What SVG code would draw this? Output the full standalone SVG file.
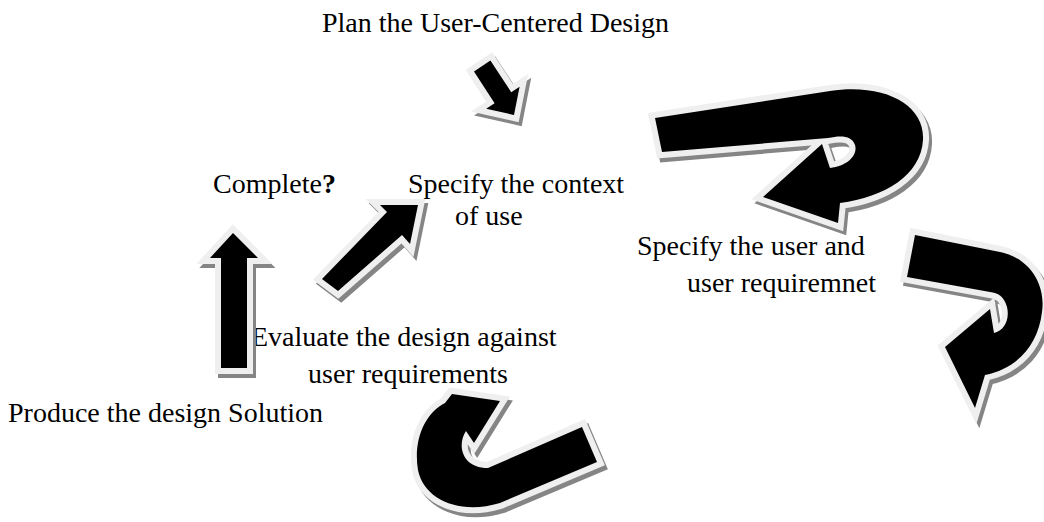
<svg xmlns="http://www.w3.org/2000/svg" xmlns:xlink="http://www.w3.org/1999/xlink" width="1044" height="522" viewBox="0 0 1044 522">
  <style>
    .lbl { font-family: "Liberation Serif", "Times New Roman", serif; font-size: 28px; fill: #000; }
    .shadow { fill: #858585; stroke: #858585; stroke-width: 12; stroke-linejoin: miter; }
    .halo { fill: #efefef; stroke: #efefef; stroke-width: 12; stroke-linejoin: miter; }
    .body { fill: #000; }
  </style>
  <defs>
    <!-- block arrow outlines -->
    <path id="arrPlan" d="M474,71.5 L490.4,60.5 L511.2,92.2 L519.6,86.7 L514,115 L486.2,108.7 L494.6,103.2 Z"/>
    <path id="arrUser" d="M655,118 L830,91 C885,83 925,105 923,140 C921,175 885,197 840,203 L838,223 L763,197 L822,144 L830,168 C848,166 858,155 855,145 C852,136 842,135 828,138 L662,152 Z"/>
    <path id="arrReq" d="M915,235 L1000,252 C1030,258 1046,285 1042,312 C1038,345 1018,368 985,375 L975,408 L945,347 L990,309 L994,333 C1004,331 1010,320 1007,307 C1004,296 998,293 990,292 L907,277 Z"/>
    <path id="arrSolution" d="M452,394 L500,401 L474,443 L466,431 C457,444 461,468 488,468 L582,427 L597,462 L500,503 C460,515 424,500 418,470 C413,440 425,413 445,403 Z"/>
    <path id="arrComplete" d="M221,368 L221,258 L210,258 L233,233 L258,258 L247,258 L247,368 Z"/>
    <path id="arrContext" d="M322,279 L387,212 L380,205 L418,205 L410,244 L402,235 L338,291 Z"/>
  </defs>

  <g id="node-plan">
    <text class="lbl" x="322" y="32">Plan the User-Centered Design</text>
  </g>
  <g id="node-complete">
    <text class="lbl" x="213" y="193">Complete<tspan font-weight="bold">?</tspan></text>
  </g>
  <g id="node-context">
    <text class="lbl" x="408" y="193">Specify the context</text>
    <text class="lbl" x="455" y="225">of use</text>
  </g>
  <g id="node-user">
    <text class="lbl" x="637" y="255">Specify the user and</text>
    <text class="lbl" x="687" y="292">user requiremnet</text>
  </g>
  <g id="node-evaluate">
    <text class="lbl" x="251" y="346">Evaluate the design against</text>
    <text class="lbl" x="308" y="383">user requirements</text>
  </g>
  <g id="node-produce">
    <text class="lbl" x="8" y="422">Produce the design Solution</text>
  </g>

  <g id="connectors">
    <g id="conn-plan">
      <use xlink:href="#arrPlan" class="shadow" transform="translate(3,4)"/>
      <use xlink:href="#arrPlan" class="halo"/>
      <use xlink:href="#arrPlan" class="body"/>
    </g>
    <g id="conn-user">
      <use xlink:href="#arrUser" class="shadow" transform="translate(3,4)"/>
      <use xlink:href="#arrUser" class="halo"/>
      <use xlink:href="#arrUser" class="body"/>
    </g>
    <g id="conn-req">
      <use xlink:href="#arrReq" class="shadow" transform="translate(3,4)"/>
      <use xlink:href="#arrReq" class="halo"/>
      <use xlink:href="#arrReq" class="body"/>
    </g>
    <g id="conn-solution">
      <use xlink:href="#arrSolution" class="shadow" transform="translate(3,4)"/>
      <use xlink:href="#arrSolution" class="halo"/>
      <use xlink:href="#arrSolution" class="body"/>
    </g>
    <g id="conn-complete">
      <use xlink:href="#arrComplete" class="shadow" transform="translate(3,4)"/>
      <use xlink:href="#arrComplete" class="halo"/>
      <use xlink:href="#arrComplete" class="body"/>
    </g>
    <g id="conn-context">
      <use xlink:href="#arrContext" class="shadow" transform="translate(3,4)"/>
      <use xlink:href="#arrContext" class="halo"/>
      <use xlink:href="#arrContext" class="body"/>
    </g>
  </g>
</svg>
